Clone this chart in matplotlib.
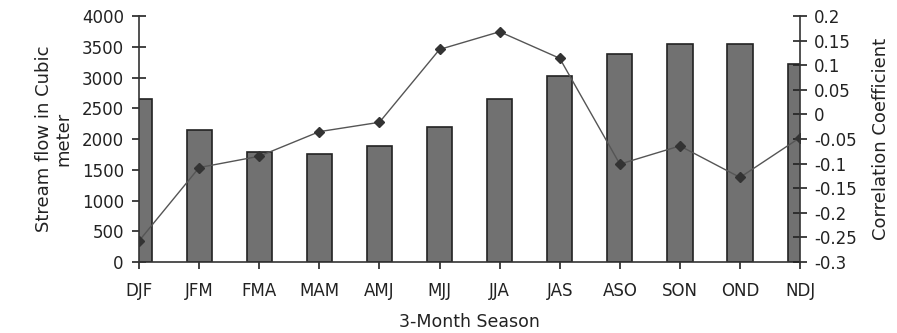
import matplotlib.pyplot as plt
from matplotlib.ticker import FuncFormatter

plt.rcParams['font.family'] = ['DejaVu Sans']
plt.rcParams['axes.unicode_minus'] = False

seasons = ['DJF', 'JFM', 'FMA', 'MAM', 'AMJ', 'MJJ', 'JJA', 'JAS', 'ASO', 'SON', 'OND', 'NDJ']
streamflow = [2650, 2140, 1790, 1750, 1885, 2195, 2650, 3030, 3380, 3545, 3545, 3225]
correlation = [-0.257, -0.108, -0.085, -0.035, -0.016, 0.132, 0.168, 0.114, -0.101, -0.064, -0.128, -0.047]

fig = plt.figure(figsize=(8.97, 3.33), dpi=100)
ax = fig.add_axes([0.155, 0.213, 0.737, 0.739])
x = list(range(len(seasons)))

ax.bar(x, streamflow, width=0.42, color='#717171', edgecolor='#222222', linewidth=1.2, zorder=2)
ax.set_xlim(0, len(seasons) - 1)
ax.set_ylim(0, 4000)
ax.set_yticks(range(0, 4001, 500))
ax.set_xticks(x)
ax.set_xticklabels(seasons)
ax.spines['top'].set_visible(False)
ax.spines['right'].set_visible(False)
for s in ['left', 'bottom']:
    ax.spines[s].set_color('#333333')
    ax.spines[s].set_linewidth(1.2)
ax.tick_params(axis='y', direction='inout', length=10, width=1.2, colors='#222222', labelsize=12, pad=6)
ax.tick_params(axis='x', direction='out', length=5, width=1.2, colors='#222222', labelsize=12, pad=9)
ax.set_xlabel('3-Month Season', fontsize=12.5, color='#222222', labelpad=10)
ax.set_ylabel('Stream flow in Cubic\nmeter', fontsize=13, color='#222222', labelpad=7,
              linespacing=1.05)

ax2 = ax.twinx()
ax2.plot(x, correlation, color='#555555', linewidth=1.0, marker='D', markersize=5.5,
         markerfacecolor='#333333', markeredgecolor='#333333', zorder=3)
ax2.set_ylim(-0.3, 0.2)
ax2.set_yticks([-0.3, -0.25, -0.2, -0.15, -0.1, -0.05, 0, 0.05, 0.1, 0.15, 0.2])
ax2.yaxis.set_major_formatter(FuncFormatter(lambda v, p: '%g' % round(v, 2)))
for s in ['top', 'left', 'bottom']:
    ax2.spines[s].set_visible(False)
ax2.spines['right'].set_color('#333333')
ax2.spines['right'].set_linewidth(1.2)
ax2.tick_params(axis='y', direction='inout', length=10, width=1.2, colors='#222222', labelsize=12, pad=5)
ax2.set_ylabel('Correlation Coefficient', fontsize=13, color='#222222', labelpad=11)

fig.savefig('out.png', dpi=100)
